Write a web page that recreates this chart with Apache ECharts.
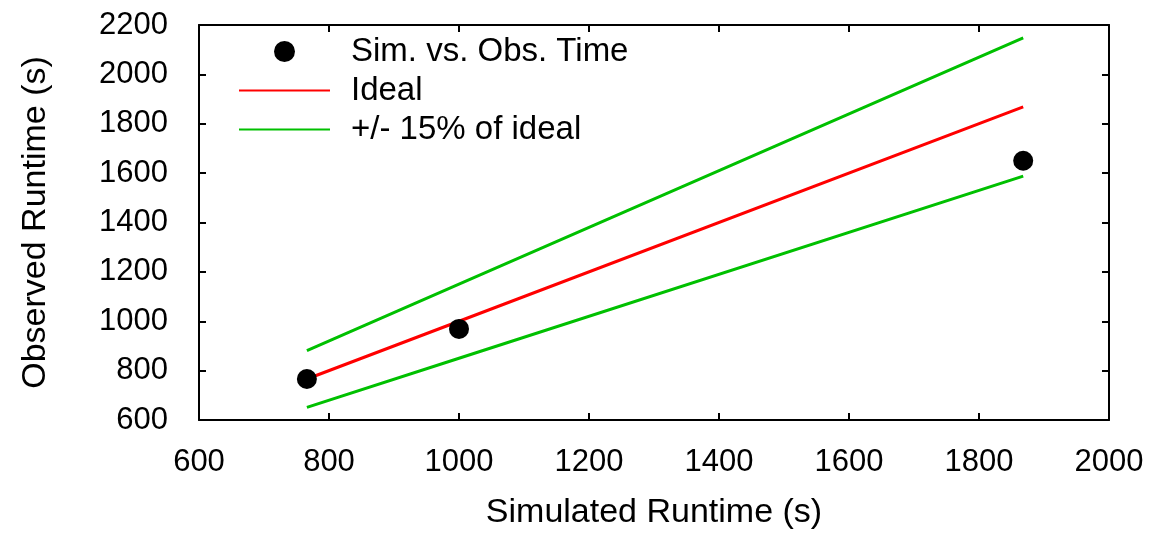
<!DOCTYPE html>
<html>
<head>
<meta charset="utf-8">
<script src="https://cdn.jsdelivr.net/npm/echarts@6/dist/echarts.min.js"></script>
<style>html,body{margin:0;padding:0;background:#fff}#c{width:1150px;height:535px}</style>
</head>
<body>
<div id="c"></div>
<script>
// Data
var simulated = [766, 1000, 1868];
var observed = [766, 969, 1650];
var lineX = [766, 1000, 1868];
var idealY = [766, 1000, 1868];
var upperY = [881, 1150, 2148];
var lowerY = [651, 850, 1588];
var seriesNames = ['Sim. vs. Obs. Time', 'Ideal', '+/- 15% of ideal'];

function pairs(xs, ys) { return xs.map(function (x, i) { return [x, ys[i]]; }); }

var FONT = '"Liberation Sans", Arial, sans-serif';
var chart = echarts.init(document.getElementById('c'), null, { renderer: 'canvas' });
var axisLine = { show: true, lineStyle: { color: '#000', width: 2 } };
var tick = { show: true, inside: true, length: 7, lineStyle: { color: '#000', width: 2 } };
var plain = function (v) { return String(v); };

chart.setOption({
  animation: false,
  backgroundColor: '#fff',
  grid: { left: 199, right: 41, top: 25, bottom: 115 },
  legend: {
    orient: 'vertical', left: 238, top: 35, padding: 0,
    itemWidth: 91, itemHeight: 21, itemGap: 6,
    data: [
      { name: seriesNames[0], icon: 'circle', itemStyle: { opacity: 1, color: '#000' } },
      { name: seriesNames[1], itemStyle: { opacity: 0 } },
      { name: seriesNames[2], itemStyle: { opacity: 0 } }
    ],
    textStyle: { fontFamily: FONT, fontSize: 33, color: '#000', lineHeight: 31, padding: [0, 0, 0, 16] }
  },
  xAxis: [{
    type: 'value', min: 600, max: 2000, interval: 200,
    name: 'Simulated Runtime (s)', nameLocation: 'middle', nameGap: 76,
    nameTextStyle: { fontFamily: FONT, fontSize: 34, color: '#000' },
    axisLine: axisLine, axisTick: tick, splitLine: { show: false },
    axisLabel: { fontFamily: FONT, fontSize: 31, color: '#000', margin: 27, formatter: plain }
  }, {
    type: 'value', position: 'top', min: 600, max: 2000, interval: 200,
    axisLine: axisLine, axisTick: tick, splitLine: { show: false },
    axisLabel: { show: false }
  }],
  yAxis: [{
    type: 'value', min: 600, max: 2200, interval: 200,
    name: 'Observed Runtime (s)', nameLocation: 'middle', nameGap: 146,
    nameTextStyle: { fontFamily: FONT, fontSize: 34, color: '#000' },
    axisLine: axisLine, axisTick: tick, splitLine: { show: false },
    axisLabel: { fontFamily: FONT, fontSize: 31, color: '#000', margin: 31, formatter: plain }
  }, {
    type: 'value', position: 'right', min: 600, max: 2200, interval: 200,
    axisLine: axisLine, axisTick: tick, splitLine: { show: false },
    axisLabel: { show: false }
  }],
  series: [{
    name: seriesNames[1], type: 'line', data: pairs(lineX, idealY),
    symbol: 'none', lineStyle: { color: '#ff0000', width: 3 }, itemStyle: { color: '#ff0000' }, z: 2
  }, {
    name: seriesNames[2], type: 'line', data: pairs(lineX, upperY),
    symbol: 'none', lineStyle: { color: '#00c000', width: 3 }, itemStyle: { color: '#00c000' }, z: 2
  }, {
    name: seriesNames[2], type: 'line', data: pairs(lineX, lowerY),
    symbol: 'none', lineStyle: { color: '#00c000', width: 3 }, itemStyle: { color: '#00c000' }, z: 2
  }, {
    name: seriesNames[0], type: 'scatter', data: pairs(simulated, observed),
    symbol: 'circle', symbolSize: 20, itemStyle: { color: '#000', opacity: 1 }, z: 3
  }]
});
</script>
</body>
</html>
